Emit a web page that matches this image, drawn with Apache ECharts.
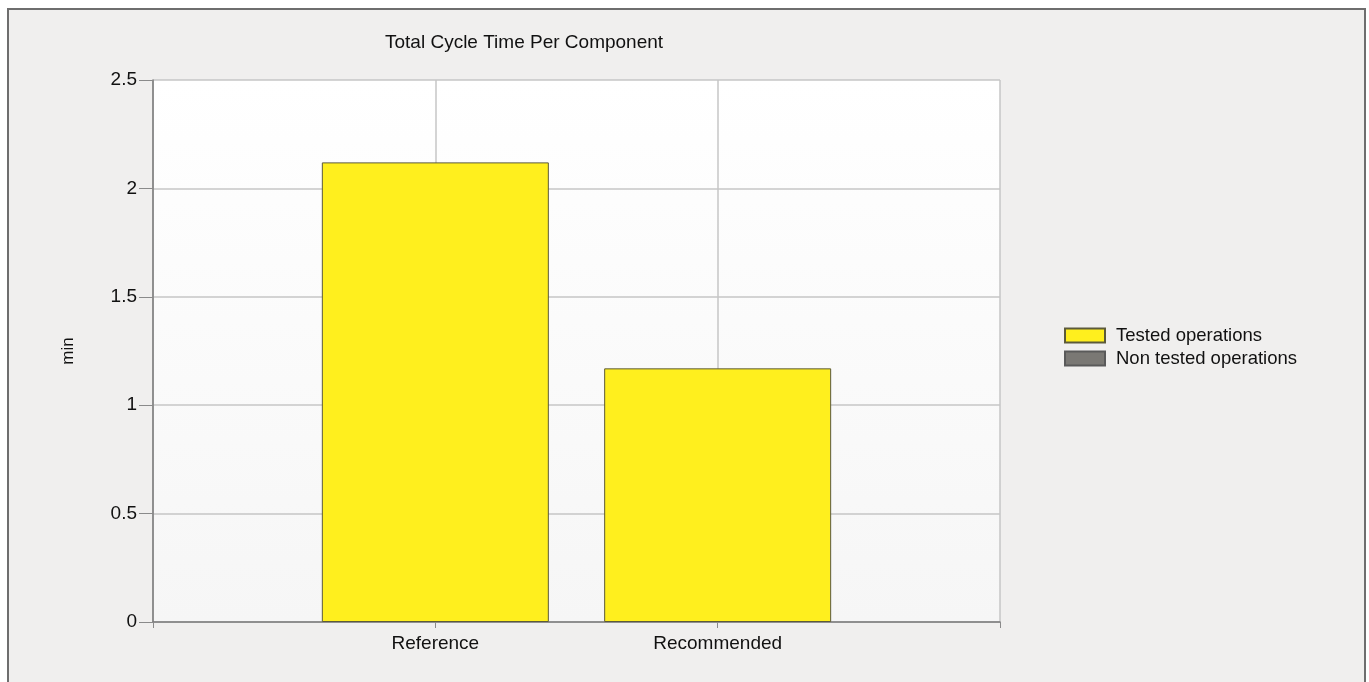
<!DOCTYPE html>
<html>
<head>
<meta charset="utf-8">
<script src="https://cdn.jsdelivr.net/npm/echarts@6/dist/echarts.min.js"></script>
<style>
  html, body { margin: 0; padding: 0; background: #ffffff; width: 1369px; height: 682px; overflow: hidden; }
  #frame { position: absolute; left: 7px; top: 8px; width: 1359px; height: 700px; box-sizing: border-box;
           border: 2px solid #6e6e6e; background: #f0efee; }
  #chart { position: absolute; left: 0; top: 0; width: 1369px; height: 682px; }
</style>
</head>
<body>
<div id="frame"></div>
<div id="chart"></div>
<script>
const categories = ['Reference', 'Recommended'];
const testedOps = [2.12, 1.17];
const nonTestedOps = [0, 0];
const seriesNames = ['Tested operations', 'Non tested operations'];
const titleText = 'Total Cycle Time Per Component';
const yAxisName = 'min';

const FONT = '"Liberation Sans", Arial, sans-serif';
const xData = [''].concat(categories, ['']);
const pad = arr => [null].concat(arr.map(v => (v === 0 ? '-' : v)), [null]);

const chart = echarts.init(document.getElementById('chart'), null, { renderer: 'canvas' });
chart.setOption({
  backgroundColor: 'transparent',
  animation: false,
  title: {
    text: titleText,
    left: 385, top: 33, padding: 0,
    textStyle: { fontFamily: FONT, fontSize: 19, fontWeight: 'normal', color: '#111' }
  },
  legend: {
    orient: 'vertical',
    left: 1064, top: 326, padding: 0,
    itemWidth: 40, itemHeight: 14, itemGap: 4,
    icon: 'rect',
    textStyle: { fontFamily: FONT, fontSize: 18.5, color: '#111', padding: [0, 0, 0, 6] },
    data: seriesNames
  },
  grid: {
    left: 153, top: 80, width: 847, height: 542,
    show: true,
    borderWidth: 0,
    backgroundColor: {
      type: 'linear', x: 0, y: 0, x2: 0, y2: 1,
      colorStops: [{ offset: 0, color: '#ffffff' }, { offset: 1, color: '#f6f6f6' }]
    }
  },
  xAxis: {
    type: 'category',
    data: xData,
    boundaryGap: false,
    axisLine: { show: true, lineStyle: { color: '#7a7a7a', width: 1.5 } },
    axisTick: { show: true, interval: 0, length: 6, lineStyle: { color: '#8a8a8a' } },
    axisLabel: { interval: 0, margin: 12, fontFamily: FONT, fontSize: 19, color: '#111' },
    splitLine: { show: true, interval: 0, lineStyle: { color: '#c6c6c6', width: 1.5 } }
  },
  yAxis: {
    type: 'value',
    min: 0, max: 2.5, interval: 0.5,
    name: yAxisName,
    nameLocation: 'middle',
    nameGap: 76,
    nameRotate: 90,
    nameTextStyle: { fontFamily: FONT, fontSize: 17, color: '#111' },
    axisLine: { show: true, lineStyle: { color: '#7a7a7a', width: 1.5 } },
    axisTick: { show: true, length: 14, lineStyle: { color: '#8a8a8a' } },
    axisLabel: { margin: 16, fontFamily: FONT, fontSize: 19, color: '#111' },
    splitLine: { show: true, lineStyle: { color: '#c6c6c6', width: 1.5 } }
  },
  series: [
    {
      name: seriesNames[0],
      type: 'bar',
      stack: 'total',
      barWidth: 227,
      data: pad(testedOps),
      itemStyle: { color: '#ffef1e', borderColor: '#5c5a3a', borderWidth: 1 }
    },
    {
      name: seriesNames[1],
      type: 'bar',
      stack: 'total',
      barWidth: 227,
      data: pad(nonTestedOps),
      itemStyle: { color: '#7a7874', borderColor: '#5a5a5a', borderWidth: 1 }
    }
  ]
});
</script>
</body>
</html>
